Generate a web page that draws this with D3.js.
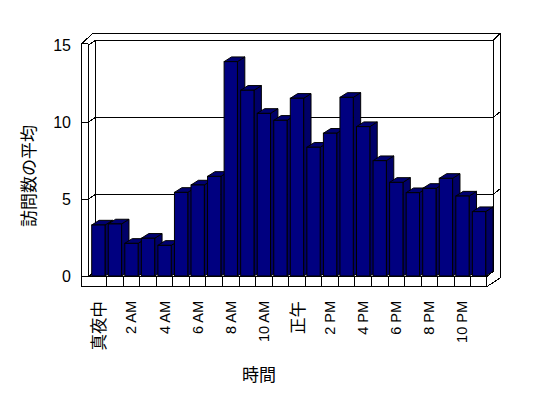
<!DOCTYPE html>
<html><head><meta charset="utf-8">
<script src="https://cdn.jsdelivr.net/npm/d3@7"></script>
<style>body{margin:0;background:#fff}svg{display:block}</style>
</head><body>
<script>
const categories = ["真夜中","1 AM","2 AM","3 AM","4 AM","5 AM","6 AM","7 AM","8 AM","9 AM","10 AM","11 AM",
  "正午","1 PM","2 PM","3 PM","4 PM","5 PM","6 PM","7 PM","8 PM","9 PM","10 PM","11 PM"];
const values = [3.31,3.38,2.12,2.45,1.99,5.43,5.91,6.47,13.92,12.06,10.56,10.11,
  11.54,8.36,9.27,11.60,9.70,7.49,6.08,5.41,5.69,6.34,5.19,4.18];
const yTicks = [0,5,10,15];
const tickLabels = ["真夜中","2 AM","4 AM","6 AM","8 AM","10 AM","正午","2 PM","4 PM","6 PM","8 PM","10 PM"];
const yTitle = "訪問数の平均";
const xTitle = "時間";

const W = 548, H = 398;
const svg = d3.select("body").append("svg").attr("width", W).attr("height", H)
  .style("background", "#fff");

const x = d3.scaleBand().domain(categories).range([90.1, 487.3]);
const y = d3.scaleLinear().domain([0, 15]).range([276, 45]);
const dx = 7.4, dy = -4.7;          // depth of plot (front plane -> back wall)
const tx = 7.4, ty = -7.3;          // wall thickness
const L0 = 81.7, L1 = 88.3;         // left wall front strip
const BL = L1 + dx, BR = 493.3;     // back wall face
const FR = 486.7;                    // floor front right
const floorTop = 276.7, floorBot = 286.7;
const ybTop = y(15) + dy, yb0 = y(0) + dy;
const OR = BR + tx, OT = ybTop + ty;

const g = svg.append("g").attr("fill", "none").attr("stroke", "#000").attr("stroke-width", 1)
  .style("shape-rendering", "crispEdges");
const line = d3.line();
const poly = pts => "M" + pts.map(p => p.join(",")).join("L") + "Z";

// outer silhouette
g.append("path").attr("d", poly([[L0, floorBot], [L0, 43.5], [BL - 2.4, OT], [OR, OT], [OR, floorBot - 9], [FR, floorBot]]))
  .attr("fill", "#fff");
// back wall face
g.append("rect").attr("x", BL).attr("y", ybTop).attr("width", BR - BL).attr("height", yb0 - ybTop).attr("fill", "#fff");
g.append("path").attr("d", line([[BR, ybTop], [OR, OT]]));
// left wall inner face
g.append("path").attr("d", poly([[L1, y(15)], [BL, ybTop], [BL, yb0], [L1, y(0)]])).attr("fill", "#fff");
g.append("path").attr("d", line([[L1, 43.5], [L1, floorTop]]));
g.append("path").attr("d", line([[L0, 43.5], [L1, 43.5]]));

// gridlines
yTicks.filter(v => v > 0 && v < 15).forEach(v => {
  const yf = y(v), yb = y(v) + dy;
  g.append("path").attr("d", line([[BL, yb], [BR, yb]]));
  g.append("path").attr("d", line([[L1, yf], [BL, yb]]));
  g.append("path").attr("d", line([[L0, yf], [L1, yf]]));
  g.append("path").attr("d", line([[BR, yb], [OR, yb - 6]]));
});

// floor
g.append("path").attr("d", poly([[L1, floorTop], [FR, floorTop], [BR, yb0], [BL, yb0]])).attr("fill", "#fff");
g.append("rect").attr("x", L0).attr("y", floorTop).attr("width", FR - L0).attr("height", floorBot - floorTop).attr("fill", "#fff");
categories.slice(1).forEach(c => {
  g.append("path").attr("d", line([[x(c), floorTop], [x(c), floorBot]]));
});

// bars
const bw = x.bandwidth() * 0.805, off = 1.6;
const bars = svg.append("g").attr("stroke", "#000").attr("stroke-width", 1).attr("stroke-linejoin", "miter");
categories.forEach((c, i) => {
  const x0 = x(c) + off, x1 = x0 + bw, yt = y(values[i]), ybt = y(0);
  const gg = bars.append("g");
  gg.append("path").attr("d", poly([[x1, yt], [x1 + dx, yt + dy], [x1 + dx, ybt + dy], [x1, ybt]])).attr("fill", "#000068");
  gg.append("path").attr("d", poly([[x0, yt], [x0 + dx, yt + dy], [x1 + dx, yt + dy], [x1, yt]])).attr("fill", "#000070");
  gg.append("rect").attr("x", x0).attr("y", yt).attr("width", bw).attr("height", ybt - yt).attr("fill", "#000080");
});

// y tick labels
svg.append("g").selectAll("text").data(yTicks).join("text")
  .attr("x", 71).attr("y", d => y(d)).attr("text-anchor", "end").attr("dominant-baseline", "central")
  .attr("font-family", "'Liberation Sans', Arial, sans-serif").attr("font-size", 16).attr("fill", "#000")
  .text(d => d);

// x tick labels
svg.append("g").selectAll("text").data(tickLabels).join("text")
  .attr("transform", d => `translate(${x(d) + off + bw / 2},301) rotate(-90)`)
  .attr("text-anchor", "end").attr("dominant-baseline", "central")
  .attr("font-family", d => /[A-Z]/.test(d) ? "'Liberation Sans', Arial, sans-serif" : "'Noto Sans CJK JP', sans-serif")
  .attr("font-size", d => /[A-Z]/.test(d) ? 14.5 : 16.5).attr("fill", "#000")
  .text(d => d);

// titles
svg.append("text").attr("transform", "translate(27,176) rotate(-90)")
  .attr("text-anchor", "middle").attr("dominant-baseline", "central")
  .attr("font-family", "'Noto Sans CJK JP', sans-serif").attr("font-size", 17).text(yTitle);
svg.append("text").attr("x", 259).attr("y", 373)
  .attr("text-anchor", "middle").attr("dominant-baseline", "central")
  .attr("font-family", "'Noto Sans CJK JP', sans-serif").attr("font-size", 17).text(xTitle);
</script>
</body></html>
